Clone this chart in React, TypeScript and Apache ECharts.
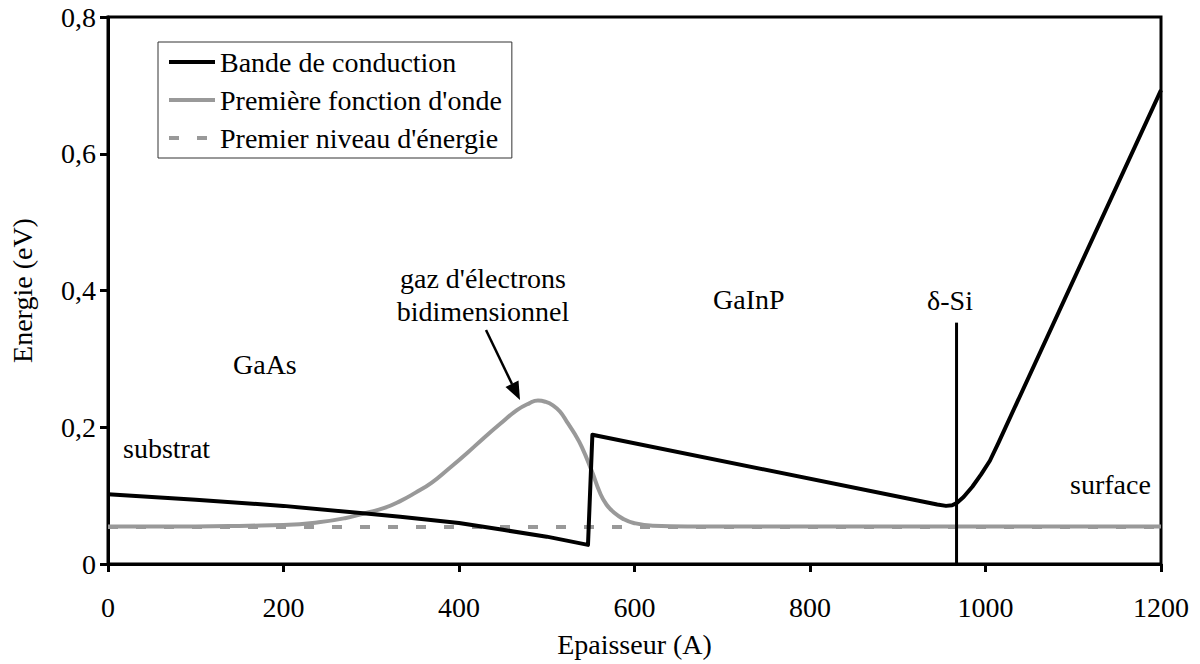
import React, { useEffect, useRef } from "react";
import * as echarts from "echarts";

// Conduction band (Epaisseur in Å, Energie in eV)
const bandX = [0, 100, 200, 300, 333, 400, 450, 500, 547, 552, 945, 955, 962, 967, 975, 985, 995, 1005, 1015, 1200];
const bandY = [0.102, 0.094, 0.085, 0.073, 0.069, 0.060, 0.050, 0.040, 0.028, 0.189, 0.087, 0.085, 0.086, 0.089, 0.098, 0.113, 0.131, 0.151, 0.178, 0.693];

// First wave function
const waveX = [0, 100, 160, 200, 240, 270, 295, 315, 333, 350, 369, 389, 409, 428, 447, 466, 480, 490, 499, 507, 515, 523, 532, 540, 551, 561, 568, 576, 587, 599, 621, 660, 800, 1000, 1200];
const waveY = [0.055, 0.055, 0.056, 0.057, 0.061, 0.067, 0.075, 0.082, 0.092, 0.104, 0.119, 0.140, 0.162, 0.184, 0.205, 0.225, 0.235, 0.239, 0.237, 0.232, 0.223, 0.208, 0.190, 0.171, 0.137, 0.103, 0.087, 0.076, 0.066, 0.060, 0.056, 0.055, 0.055, 0.055, 0.055];

// First energy level
const levelX = [0, 1200];
const levelY = [0.054, 0.054];

// δ-Si doping plane
const deltaX = [967, 967];
const deltaY = [0, 0.353];

const seriesNames = ["Bande de conduction", "Première fonction d'onde", "Premier niveau d'énergie"];
const xTicks = [0, 200, 400, 600, 800, 1000, 1200];
const yTicks = [0, 0.2, 0.4, 0.6, 0.8];

const FONT = "Liberation Serif";
const GREY = "#999999";

const zip = (xs: number[], ys: number[]) => xs.map((x, i) => [x, ys[i]]);

export default function App() {
  const ref = useRef<HTMLDivElement>(null);

  useEffect(() => {
    if (!ref.current) return;
    const chart = echarts.init(ref.current, undefined, { renderer: "svg" });
    const txt = (text: string, x: number, y: number, align: string = "left") => ({
      type: "text",
      x,
      y,
      silent: true,
      style: {
        text,
        fontFamily: FONT,
        fontSize: 28,
        fill: "#000",
        textAlign: align,
        textVerticalAlign: "middle",
      },
    });
    chart.setOption({
      animation: false,
      backgroundColor: "#fff",
      textStyle: { fontFamily: FONT },
      grid: {
        left: 107,
        right: 39,
        top: 17,
        bottom: 100,
        show: true,
        borderColor: "#000",
        borderWidth: 3,
        backgroundColor: "transparent",
      },
      legend: {
        data: seriesNames,
        orient: "vertical",
        left: 158,
        top: 42,
        padding: [6, 10, 6, 9],
        itemWidth: 46,
        itemHeight: 14,
        itemGap: 10,
        borderColor: "#333",
        borderWidth: 1,
        backgroundColor: "#fff",
        itemStyle: { color: "transparent", borderColor: "transparent", borderWidth: 0, opacity: 0 },
        lineStyle: { width: 4 },
        textStyle: { fontFamily: FONT, fontSize: 28, color: "#000", lineHeight: 28 },
      },
      xAxis: {
        type: "value",
        min: xTicks[0],
        max: xTicks[xTicks.length - 1],
        interval: 200,
        name: "Epaisseur (A)",
        nameLocation: "middle",
        nameGap: 66,
        nameTextStyle: { fontFamily: FONT, fontSize: 28, color: "#000" },
        axisLine: { show: true, lineStyle: { color: "#000", width: 3 } },
        axisTick: { show: true, inside: false, length: 8, lineStyle: { color: "#000", width: 3 } },
        axisLabel: {
          fontFamily: FONT,
          fontSize: 28,
          color: "#000",
          margin: 29,
          formatter: (v: number) => String(v),
        },
        splitLine: { show: false },
      },
      yAxis: {
        type: "value",
        min: yTicks[0],
        max: yTicks[yTicks.length - 1],
        interval: 0.2,
        name: "Energie (eV)",
        nameLocation: "middle",
        nameGap: 72,
        nameTextStyle: { fontFamily: FONT, fontSize: 28, color: "#000" },
        axisLine: { show: true, lineStyle: { color: "#000", width: 3 } },
        axisTick: { show: true, inside: false, length: 8, lineStyle: { color: "#000", width: 3 } },
        axisLabel: {
          fontFamily: FONT,
          fontSize: 28,
          color: "#000",
          margin: 12,
          formatter: (v: number) => (v === 0 ? "0" : v.toFixed(1).replace(".", ",")),
        },
        splitLine: { show: false },
      },
      series: [
        {
          name: seriesNames[0],
          type: "line",
          data: zip(bandX, bandY),
          showSymbol: false,
          symbol: "none",
          smooth: false,
          lineStyle: { color: "#000", width: 4, join: "round" },
          itemStyle: { color: "#000" },
          z: 3,
        },
        {
          name: seriesNames[1],
          type: "line",
          data: zip(waveX, waveY),
          showSymbol: false,
          symbol: "none",
          smooth: 0.5,
          lineStyle: { color: GREY, width: 4, join: "round" },
          itemStyle: { color: GREY },
          z: 2,
        },
        {
          name: seriesNames[2],
          type: "line",
          data: zip(levelX, levelY),
          showSymbol: false,
          symbol: "none",
          lineStyle: { color: GREY, width: 4, type: [10, 18] },
          itemStyle: { color: GREY },
          z: 2,
        },
        {
          name: "δ-Si",
          type: "line",
          data: zip(deltaX, deltaY),
          showSymbol: false,
          symbol: "none",
          silent: true,
          lineStyle: { color: "#000", width: 3 },
          itemStyle: { color: "#000" },
          z: 4,
        },
      ],
      graphic: [
        txt("substrat", 123, 448),
        txt("GaAs", 233, 364),
        txt("gaz d'électrons", 483, 278, "center"),
        txt("bidimensionnel", 483, 311, "center"),
        txt("GaInP", 713, 299),
        txt("δ-Si", 950, 300, "center"),
        txt("surface", 1070, 484),
        {
          type: "line",
          silent: true,
          shape: { x1: 486, y1: 330, x2: 512, y2: 384 },
          style: { stroke: "#000", lineWidth: 2.5 },
        },
        {
          type: "polygon",
          silent: true,
          shape: { points: [[520, 400], [505.5, 387], [518.5, 380.5]] },
          style: { fill: "#000" },
        },
      ],
    });
    return () => chart.dispose();
  }, []);

  return (
    <div
      ref={ref}
      style={{ position: "absolute", left: 0, top: 0, width: 1200, height: 664, background: "#fff" }}
    />
  );
}
